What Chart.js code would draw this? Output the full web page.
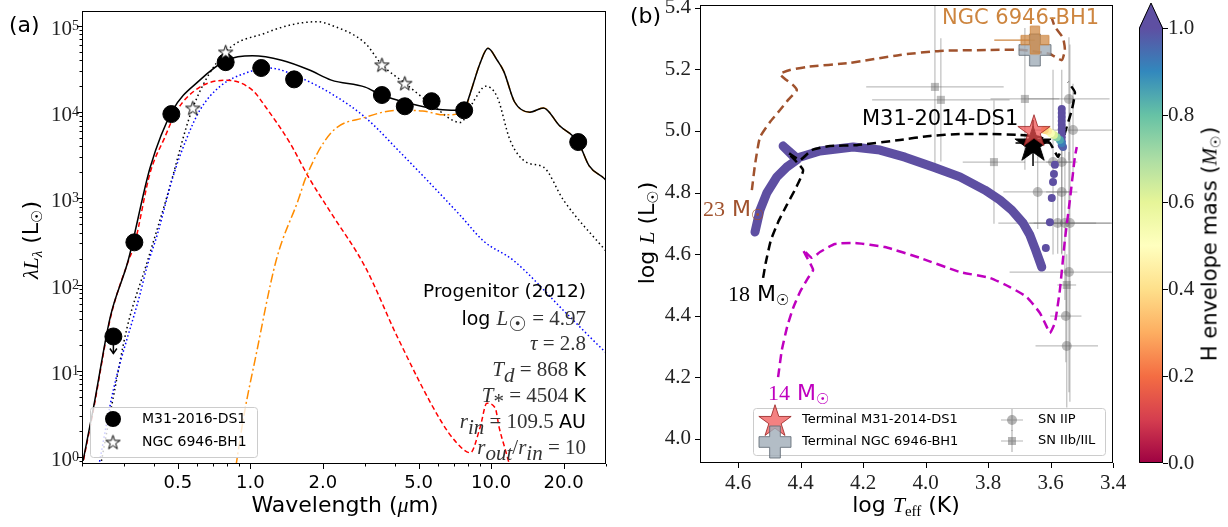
<!DOCTYPE html>
<html>
<head>
<meta charset="utf-8">
<title>Progenitor SED and HR diagram</title>
<script src="https://cdn.jsdelivr.net/npm/chart.js@4.4.0/dist/chart.umd.min.js"></script>
<style>
  html, body { margin: 0; padding: 0; background: #fff; }
  #fig { position: relative; width: 1228px; height: 527px; overflow: hidden; font-family: "DejaVu Sans", sans-serif; color: #000; }
  #fig canvas { position: absolute; top: 0; }
  .lbl { position: absolute; white-space: nowrap; line-height: 1; }
  .c { transform: translate(-50%, -50%); }
  .r { transform: translate(-100%, -50%); }
  .l { transform: translate(0, -50%); }
  .v { transform: translate(-50%, -50%) rotate(-90deg); }
  .mi { font-family: "Liberation Serif", serif; font-style: italic; }
  .rm { font-family: "Liberation Serif", serif; }
  .m { color: #333; font-size: 21px; }
  sub { font-size: 0.68em; vertical-align: -0.3em; line-height: 0; }
</style>
</head>
<body>
<div id="fig">
  <canvas id="sed" width="620" height="527" style="left:0"></canvas>
  <canvas id="hrd" width="608" height="547" style="left:620px;top:-20px"></canvas>
  <canvas id="cbar" width="108" height="527" style="left:1120px"></canvas>

  <div class="lbl l" style="left:9px;top:25px;font-size:22px">(a)</div>
  <div class="lbl l" style="left:630px;top:16px;font-size:22px">(b)</div>

  <div class="lbl c" style="left:345px;top:505px;font-size:22px">Wavelength (<span class="mi">μ</span>m)</div>
  <div class="lbl v" style="left:31px;top:240px;font-size:22px"><span class="mi">λL</span><sub class="mi">λ</sub> (L<sub>☉</sub>)</div>

  <div class="lbl r" style="left:586px;top:291px;font-size:18.5px">Progenitor (2012)</div>
  <div class="lbl r" style="left:586px;top:318px;font-size:19px">log <span class="mi m">L</span><sub class="m">☉</sub><span class="rm m"> = 4.97</span></div>
  <div class="lbl r" style="left:586px;top:343px;font-size:19px"><span class="mi m">τ</span><span class="rm m"> = 2.8</span></div>
  <div class="lbl r" style="left:586px;top:369px;font-size:19px"><span class="mi m">T</span><sub class="mi m">d</sub><span class="rm m"> = 868 </span>K</div>
  <div class="lbl r" style="left:586px;top:395px;font-size:19px"><span class="mi m">T</span><sub class="rm m">*</sub><span class="rm m"> = 4504 </span>K</div>
  <div class="lbl r" style="left:586px;top:421px;font-size:19px"><span class="mi m">r</span><sub class="mi m">in</sub><span class="rm m"> = 109.5 </span>AU</div>
  <div class="lbl r" style="left:586px;top:447px;font-size:19px"><span class="mi m">r</span><sub class="mi m">out</sub><span class="rm m">/</span><span class="mi m">r</span><sub class="mi m">in</sub><span class="rm m"> = 10</span></div>

  <div class="lbl c" style="left:906px;top:505px;font-size:22px">log <span class="mi">T</span><sub class="rm">eff</sub> (K)</div>
  <div class="lbl v" style="left:647px;top:233px;font-size:22px">log <span class="mi">L</span> (L<sub>☉</sub>)</div>

  <div class="lbl l" style="left:703px;top:209px;font-size:22px;color:sienna"><span class="rm">23</span> M<sub>☉</sub></div>
  <div class="lbl l" style="left:728px;top:294px;font-size:22px"><span class="rm">18</span> M<sub>☉</sub></div>
  <div class="lbl l" style="left:768px;top:393px;font-size:22px;color:#bf00bf"><span class="rm">14</span> M<sub>☉</sub></div>
  <div class="lbl l" style="left:862px;top:118px;font-size:21px">M31-2014-DS1</div>
  <div class="lbl l" style="left:942px;top:17px;font-size:21px;color:peru">NGC 6946-BH1</div>

  <div class="lbl v" style="left:1210px;top:244px;font-size:21px">H envelope mass (<span class="mi">M</span><sub class="rm">☉</sub>)</div>
</div>

<script>
// ---------- panel (a): spectral energy distribution ----------
const sedXTicks = [0.5, 1, 2, 5, 10, 20];
const sedXTickLabels = ['0.5', '1.0', '2.0', '5.0', '10.0', '20.0'];
const sedYExps = [0, 1, 2, 3, 4, 5];

// photometry of M31-2016-DS1 (first point is an upper limit)
const ds1Wave = [0.27, 0.33, 0.47, 0.79, 1.11, 1.52, 3.52, 4.38, 5.66, 7.73, 23.0];
const ds1Lum = [25, 309, 9500, 38000, 32500, 24000, 15800, 11700, 13400, 10500, 4500];
const ds1UpperLimit = [true, false, false, false, false, false, false, false, false, false, false];

// photometry of NGC 6946-BH1
const bh1Wave = [0.577, 0.79, 3.52, 4.38];
const bh1Lum = [11200, 50000, 35500, 21700];

// total DUSTY model (solid black)
const modelWave = [0.202, 0.223, 0.262, 0.311, 0.384, 0.476, 0.617, 0.797, 1.02, 1.35, 1.75, 2.17, 3.0, 3.5, 4.6, 6.1, 7.2, 7.8, 8.2, 9.0, 9.7, 10.6, 11.3, 12.5, 14.5, 16.5, 19.2, 23.0, 25.5, 29.5, 30.5];
const modelLum = [0.9, 3.7, 42, 190, 2300, 10500, 23500, 40000, 45000, 40000, 31000, 23500, 19500, 15800, 12600, 10700, 10500, 11400, 16700, 37000, 55000, 40000, 29500, 13200, 10000, 11200, 7000, 4500, 2400, 1700, 1550];

// NGC 6946-BH1 model (dotted black)
const bh1ModelWave = [0.239, 0.27, 0.308, 0.37, 0.45, 0.577, 0.79, 1.16, 1.5, 1.9, 2.17, 3.0, 3.52, 4.38, 5.6, 7.45, 8.5, 9.5, 10.6, 12.0, 14.1, 16.5, 20, 29.8, 31];
const bh1ModelLum = [0.8, 5, 32, 170, 1030, 11200, 50000, 83000, 104000, 112000, 102000, 63000, 35500, 21700, 12600, 7600, 13700, 20000, 15000, 4700, 2600, 2300, 950, 250, 220];

// stellar photosphere (red dashed)
const photWave = [0.2, 0.223, 0.262, 0.311, 0.33, 0.384, 0.44, 0.496, 0.617, 0.80, 1.02, 1.16, 1.46, 1.75, 2.17, 3.0, 4.1, 6.2, 7.2, 8.2, 9.0, 9.6, 10.4, 10.8, 11.4, 11.9, 12.5];
const photLum = [0.75, 3.5, 40, 185, 290, 2000, 5000, 10500, 19500, 23500, 18000, 11400, 4400, 1740, 670, 160, 24, 2.6, 1.46, 1.12, 2.2, 4.2, 3.7, 2.2, 1.27, 0.83, 0.5];

// attenuated star (blue dotted)
const attenWave = [0.235, 0.27, 0.349, 0.372, 0.412, 0.476, 0.54, 0.617, 0.75, 0.96, 1.2, 1.59, 2.2, 3.0, 4.2, 5.6, 7.5, 9.3, 12.4, 20, 29.5, 31];
const attenLum = [0.8, 6, 79, 160, 390, 1740, 4700, 10500, 20000, 28500, 32500, 25500, 16000, 8700, 3400, 1480, 620, 320, 190, 50, 17, 15];

// dust emission (orange dash-dot)
const dustWave = [0.85, 0.944, 1.05, 1.28, 1.59, 1.70, 2.17, 3.0, 4.1, 5.2, 6.4, 7.7, 8.2, 9.0, 9.7, 10.6, 11.3, 12.5, 14.5, 16.5, 19.2, 23.0, 25.5, 29.5, 30.5];
const dustLum = [0.5, 3.2, 14, 190, 1000, 1740, 5800, 8700, 10500, 10300, 9300, 10000, 16700, 37000, 55000, 40000, 29500, 13200, 10000, 11200, 7000, 4500, 2400, 1700, 1550];

// ---------- panel (b): HR diagram ----------
const hrXTicks = [4.6, 4.4, 4.2, 4.0, 3.8, 3.6, 3.4];
const hrYTicks = [4.0, 4.2, 4.4, 4.6, 4.8, 5.0, 5.2, 5.4];

const track23Teff = [4.556, 4.546, 4.530, 4.498, 4.466, 4.440, 4.412, 4.424, 4.450, 4.466, 4.434, 4.380, 4.242, 4.082, 3.954, 3.794, 3.688, 3.602, 3.564, 3.554, 3.560, 3.586, 3.596];
const track23L = [4.808, 4.890, 4.980, 5.029, 5.068, 5.101, 5.133, 5.149, 5.169, 5.185, 5.198, 5.208, 5.221, 5.247, 5.260, 5.263, 5.263, 5.250, 5.230, 5.263, 5.302, 5.338, 5.367];

const track18Teff = [4.520, 4.511, 4.495, 4.472, 4.444, 4.415, 4.392, 4.440, 4.402, 4.364, 4.306, 4.220, 4.082, 3.986, 3.890, 3.794, 3.698, 3.634, 3.602, 3.576, 3.564, 3.554, 3.532, 3.522, 3.544];
const track18L = [4.523, 4.575, 4.646, 4.704, 4.760, 4.815, 4.873, 4.929, 4.906, 4.938, 4.951, 4.954, 4.971, 4.984, 4.990, 4.990, 4.987, 4.980, 4.961, 4.916, 4.948, 4.993, 5.068, 5.126, 5.159];

const track14Teff = [4.472, 4.460, 4.443, 4.424, 4.402, 4.376, 4.360, 4.392, 4.364, 4.338, 4.290, 4.226, 4.130, 4.018, 3.890, 3.794, 3.730, 3.676, 3.634, 3.612, 3.602, 3.586, 3.570, 3.554, 3.538, 3.522, 3.516];
const track14L = [4.201, 4.289, 4.364, 4.425, 4.477, 4.523, 4.549, 4.614, 4.588, 4.607, 4.633, 4.636, 4.623, 4.588, 4.542, 4.523, 4.493, 4.461, 4.409, 4.364, 4.344, 4.377, 4.484, 4.646, 4.776, 4.916, 4.948];

// model track with H envelope >= 1 Msun (purple band)
const hrTeff = [4.546, 4.530, 4.508, 4.476, 4.444, 4.412, 4.456, 4.412, 4.380, 4.338, 4.232, 4.146, 4.066, 3.976, 3.890, 3.810, 3.762, 3.724, 3.688, 3.666, 3.650, 3.634, 3.628];
const hrL = [4.672, 4.743, 4.799, 4.851, 4.883, 4.906, 4.951, 4.912, 4.922, 4.935, 4.948, 4.938, 4.915, 4.883, 4.851, 4.808, 4.776, 4.743, 4.701, 4.662, 4.620, 4.575, 4.558];

// late stages, coloured by H envelope mass
const tailTeff = [3.615, 3.602, 3.596, 3.592, 3.589, 3.586,
  3.564, 3.564, 3.564, 3.564, 3.564, 3.564, 3.564, 3.564, 3.564, 3.564,
  3.560, 3.564, 3.570, 3.580, 3.589, 3.599, 3.608, 3.618];
const tailL = [4.620, 4.704, 4.782, 4.834, 4.860, 4.890,
  4.954, 4.967, 4.980, 4.993, 5.006, 5.019, 5.032, 5.045, 5.058, 5.071,
  4.948, 4.961, 4.971, 4.980, 4.987, 4.993, 5.000, 5.003];
const tailMenv = [1.0, 1.0, 1.0, 1.0, 1.0, 1.0,
  1.0, 1.0, 1.0, 1.0, 1.0, 1.0, 1.0, 1.0, 1.0, 1.0,
  0.97, 0.92, 0.85, 0.75, 0.62, 0.52, 0.44, 0.38];

// SN progenitors
const iipTeff = [3.541, 3.528, 3.592, 3.564, 3.641, 3.564, 3.577, 3.554, 3.538, 3.541, 3.551, 3.548];
const iipL = [5.104, 5.003, 4.899, 4.899, 4.802, 4.802, 4.701, 4.701, 4.701, 4.542, 4.399, 4.302];
const iipTeffErr = [0.13, 0.13, 0.06, 0.05, 0.11, 0.05, 0.19, 0.10, 0.13, 0.19, 0.05, 0.10];
const iipLErr = [0.2, 0.15, 0.3, 0.3, 0.12, 0.2, 0.1, 0.25, 0.58, 0.39, 0.15, 0.2];

const iibTeff = [3.970, 3.951, 3.781, 3.682, 3.548];
const iibL = [5.143, 5.101, 4.899, 5.104, 4.500];
const iibTeffErr = [0.22, 0.22, 0.10, 0.11, 0.03];
const iibLErr = [0.27, 0.20, 0.20, 0.23, 0.10];

// observed / terminal positions
const ds1ObsTeff = [3.656], ds1ObsL = [4.961], ds1ObsTeffErr = [0.056], ds1ObsLErr = [0.075];
const ds1TermTeff = [3.653], ds1TermL = [5.003];
const bh1ObsTeff = [3.650], bh1ObsL = [5.295];
const bh1TermTeff = [3.650], bh1TermL = [5.263];

// colour bar
const cbarTicks = [0, 0.2, 0.4, 0.6, 0.8, 1.0];
const cbarLabels = ['0.0', '0.2', '0.4', '0.6', '0.8', '1.0'];
const spectral = ['#9e0142', '#d53e4f', '#f46d43', '#fdae61', '#fee08b', '#ffffbf', '#e6f598', '#abdda4', '#66c2a5', '#3288bd', '#5e4fa2'];

// ---------- helpers ----------
function pts(xs, ys) { return xs.map((v, i) => ({ x: v, y: ys[i] })); }

function spectralColor(v) {
  const t = Math.max(0, Math.min(1, v)) * (spectral.length - 1);
  const i = Math.min(Math.floor(t), spectral.length - 2), f = t - i;
  const a = parseInt(spectral[i].slice(1), 16), b = parseInt(spectral[i + 1].slice(1), 16);
  const ch = s => Math.round(((a >> s) & 255) * (1 - f) + ((b >> s) & 255) * f);
  return 'rgb(' + ch(16) + ',' + ch(8) + ',' + ch(0) + ')';
}

function starCanvas(r, fill, stroke, lw) {
  const s = Math.ceil(2 * r + 2 * lw + 2), c = document.createElement('canvas');
  c.width = s; c.height = s;
  const g = c.getContext('2d');
  g.beginPath();
  for (let i = 0; i < 10; i++) {
    const rr = i % 2 ? r * 0.382 : r, ang = -Math.PI / 2 + i * Math.PI / 5;
    const px = s / 2 + rr * Math.cos(ang), py = s / 2 + rr * Math.sin(ang) + r * 0.1;
    if (i) g.lineTo(px, py); else g.moveTo(px, py);
  }
  g.closePath();
  g.fillStyle = fill; g.fill();
  g.lineWidth = lw; g.strokeStyle = stroke; g.stroke();
  return c;
}

function plusCanvas(size, fill, stroke, lw) {
  const s = Math.ceil(size + 2 * lw + 2), c = document.createElement('canvas');
  c.width = s; c.height = s;
  const g = c.getContext('2d'), h = size / 2, a = size / 6, o = s / 2;
  const p = [[-a, -h], [a, -h], [a, -a], [h, -a], [h, a], [a, a], [a, h], [-a, h], [-a, a], [-h, a], [-h, -a], [-a, -a]];
  g.beginPath();
  p.forEach((q, i) => i ? g.lineTo(o + q[0], o + q[1]) : g.moveTo(o + q[0], o + q[1]));
  g.closePath();
  g.fillStyle = fill; g.fill();
  g.lineWidth = lw; g.strokeStyle = stroke; g.stroke();
  return c;
}

function logTicks(lo, hi, majors) {
  const t = [];
  for (let e = Math.floor(Math.log10(lo)); e <= Math.ceil(Math.log10(hi)); e++) {
    for (let m = 1; m < 10; m++) {
      const v = +(m * Math.pow(10, e)).toPrecision(6);
      if (v >= lo && v <= hi) t.push({ value: v, major: majors(v) });
    }
  }
  return t;
}

const whiteStar = starCanvas(7.5, '#fff', '#000', 1);
const redStar = starCanvas(17, 'rgba(240,80,80,0.72)', 'rgba(150,30,30,0.8)', 1);
const blackStar = starCanvas(19, '#000', '#000', 1);
const grayPlus = plusCanvas(32, 'rgba(160,172,184,0.8)', 'rgba(90,100,110,0.8)', 1);
const peruPlus = plusCanvas(28, 'rgba(205,133,63,0.72)', 'rgba(205,133,63,0.8)', 1);

const serif = '"Liberation Serif", "DejaVu Serif", serif';
const sans = '"DejaVu Sans", sans-serif';

// tick marks (major longer than minor) and the full frame
const frameTicks = {
  id: 'frameTicks',
  afterDraw(chart, args, opts) {
    const { ctx, chartArea: a } = chart;
    ctx.save();
    ctx.strokeStyle = '#000';
    ctx.lineWidth = 1;
    Object.values(chart.scales).forEach(s => {
      if (!s.options.display) return;
      s.ticks.forEach(t => {
        const len = t.major ? 5 : 2.5;
        const p = Math.round(s.getPixelForValue(t.value)) + 0.5;
        ctx.beginPath();
        if (s.position === 'bottom') { ctx.moveTo(p, a.bottom); ctx.lineTo(p, a.bottom + len); }
        else if (s.position === 'left') { ctx.moveTo(a.left - len, p); ctx.lineTo(a.left, p); }
        else { ctx.moveTo(a.right, p); ctx.lineTo(a.right + len, p); }
        ctx.stroke();
      });
    });
    if (opts.frame !== false) {
      ctx.strokeRect(Math.round(a.left) + 0.5, Math.round(a.top) + 0.5, Math.round(a.width) - 1, Math.round(a.height) - 1);
    }
    ctx.restore();
  }
};

function legendBox(ctx, x, y, w, h) {
  ctx.save();
  ctx.beginPath();
  ctx.roundRect(x + 0.5, y + 0.5, w, h, 3);
  ctx.fillStyle = 'rgba(255,255,255,0.8)';
  ctx.fill();
  ctx.strokeStyle = '#ccc';
  ctx.stroke();
  ctx.restore();
}

// panel (a) extras: upper limit arrow, 10^n labels, legend
const sedExtras = {
  id: 'sedExtras',
  beforeDatasetsDraw(chart) {
    const { ctx, scales: { x, y } } = chart;
    ctx.save();
    ctx.strokeStyle = '#000';
    ctx.lineWidth = 1.5;
    ds1Wave.forEach((w, i) => {
      if (!ds1UpperLimit[i]) return;
      const px = x.getPixelForValue(w), py = y.getPixelForValue(ds1Lum[i]);
      ctx.beginPath(); ctx.moveTo(px, py); ctx.lineTo(px, py + 17); ctx.stroke();
      ctx.beginPath(); ctx.moveTo(px - 3.5, py + 12); ctx.lineTo(px, py + 17); ctx.lineTo(px + 3.5, py + 12); ctx.stroke();
    });
    ctx.restore();
  },
  afterDraw(chart) {
    const { ctx, scales: { y }, chartArea: a } = chart;
    ctx.save();
    ctx.fillStyle = '#222';
    ctx.textBaseline = 'alphabetic';
    sedYExps.forEach(e => {
      const py = y.getPixelForValue(Math.pow(10, e));
      ctx.font = '14px ' + serif;
      const ew = ctx.measureText(String(e)).width;
      const right = a.left - 3;
      ctx.textAlign = 'right';
      ctx.fillText(String(e), right, py + 4);
      ctx.font = '21px ' + serif;
      ctx.fillText('10', right - ew, py + 9);
    });
    // legend
    legendBox(ctx, 90, 407, 167, 50);
    ctx.fillStyle = '#000';
    ctx.beginPath(); ctx.arc(113, 419, 8, 0, Math.PI * 2); ctx.fill();
    ctx.drawImage(whiteStar, 113 - whiteStar.width / 2, 442 - whiteStar.height / 2);
    ctx.font = '14px ' + sans;
    ctx.textAlign = 'left';
    ctx.textBaseline = 'middle';
    ctx.fillText('M31-2016-DS1', 142, 419);
    ctx.fillText('NGC 6946-BH1', 142, 442);
    ctx.restore();
  }
};

const curve = (xs, ys, color, dash, order) => ({
  data: pts(xs, ys), showLine: true, pointRadius: 0, borderColor: color, borderWidth: 1.5,
  borderDash: dash, cubicInterpolationMode: 'monotone', order: order
});

new Chart(document.getElementById('sed'), {
  type: 'scatter',
  data: {
    datasets: [
      { data: pts(bh1Wave, bh1Lum), pointStyle: whiteStar, pointRadius: 8, order: 0 },
      { data: pts(ds1Wave, ds1Lum), pointStyle: 'circle', pointRadius: 8.5, backgroundColor: '#000', borderColor: '#000', order: 1 },
      curve(modelWave, modelLum, '#000', [], 2),
      curve(dustWave, dustLum, '#ff8c00', [9, 3, 2, 3], 3),
      curve(photWave, photLum, '#ff0000', [5, 3], 4),
      curve(attenWave, attenLum, '#0000ff', [1.5, 2.5], 5),
      curve(bh1ModelWave, bh1ModelLum, '#000', [1.5, 3], 6)
    ]
  },
  options: {
    responsive: false, animation: false, events: [],
    layout: { padding: { left: 0, top: 11, right: 14, bottom: 0 } },
    plugins: { legend: { display: false }, tooltip: { enabled: false } },
    scales: {
      x: {
        type: 'logarithmic', min: 0.2, max: 30,
        afterFit: s => { s.height = 63; },
        afterBuildTicks: s => { s.ticks = logTicks(0.2, 30, v => sedXTicks.includes(v)); },
        grid: { display: false, tickLength: 5 }, border: { display: false },
        ticks: {
          autoSkip: false, maxRotation: 0, padding: 4, color: '#000',
          font: { family: sans, size: 18 },
          callback: v => { const i = sedXTicks.indexOf(v); return i >= 0 ? sedXTickLabels[i] : ''; }
        }
      },
      y: {
        type: 'logarithmic', min: 0.83, max: 149000,
        afterFit: s => { s.width = 82; },
        afterBuildTicks: s => { s.ticks = logTicks(0.83, 149000, v => sedYExps.some(e => Math.pow(10, e) === v)); },
        grid: { display: false, tickLength: 5 }, border: { display: false },
        ticks: { autoSkip: false, callback: () => '' }
      }
    }
  },
  plugins: [sedExtras, frameTicks]
});

// panel (b) extras: error bars and legend (canvas sits 20px above the page top)
const OY = 20;
const hrExtras = {
  id: 'hrExtras',
  beforeDatasetsDraw(chart) {
    const { ctx, chartArea: a, scales: { x, y } } = chart;
    ctx.save();
    ctx.beginPath(); ctx.rect(a.left, a.top, a.width, a.height); ctx.clip();
    chart.data.datasets.forEach(ds => {
      if (!ds.errX && !ds.errY) return;
      ctx.strokeStyle = ds.errColor || 'rgba(110,110,110,0.45)';
      ctx.lineWidth = ds.errWidth || 1.2;
      ds.data.forEach((p, j) => {
        const px = x.getPixelForValue(p.x), py = y.getPixelForValue(p.y);
        if (ds.errX) {
          const e = ds.errX[j], lo = Array.isArray(e) ? e[0] : e, hi = Array.isArray(e) ? e[1] : e;
          ctx.beginPath(); ctx.moveTo(x.getPixelForValue(p.x + lo), py); ctx.lineTo(x.getPixelForValue(p.x - hi), py); ctx.stroke();
        }
        if (ds.errY) {
          const e = ds.errY[j];
          ctx.beginPath(); ctx.moveTo(px, y.getPixelForValue(p.y + e)); ctx.lineTo(px, y.getPixelForValue(p.y - e)); ctx.stroke();
        }
      });
    });
    ctx.restore();
  },
  afterDraw(chart) {
    const { ctx } = chart;
    ctx.save();
    legendBox(ctx, 133, 408 + OY, 352, 47);
    ctx.drawImage(redStar, 155 - redStar.width / 2, 420 + OY - redStar.height / 2);
    ctx.drawImage(grayPlus, 155 - grayPlus.width / 2, 442 + OY - grayPlus.height / 2);
    ctx.strokeStyle = 'rgba(110,110,110,0.5)';
    ctx.lineWidth = 1.2;
    [[420 + OY, 'c'], [441 + OY, 's']].forEach(([ly, kind]) => {
      ctx.beginPath(); ctx.moveTo(381, ly); ctx.lineTo(403, ly); ctx.moveTo(392, ly - 11); ctx.lineTo(392, ly + 11); ctx.stroke();
      ctx.fillStyle = 'rgba(90,90,90,0.45)';
      ctx.beginPath();
      if (kind === 'c') ctx.arc(392, ly, 5, 0, Math.PI * 2); else ctx.rect(388, ly - 4, 8, 8);
      ctx.fill();
    });
    ctx.fillStyle = '#000';
    ctx.font = '13px ' + sans;
    ctx.textAlign = 'left';
    ctx.textBaseline = 'middle';
    ctx.fillText('Terminal M31-2014-DS1', 182, 420 + OY);
    ctx.fillText('Terminal NGC 6946-BH1', 182, 442 + OY);
    ctx.fillText('SN IIP', 418, 420 + OY);
    ctx.fillText('SN IIb/IIL', 418, 441 + OY);
    ctx.restore();
  }
};

const track = (xs, ys, color, order) => ({
  data: pts(xs, ys), showLine: true, pointRadius: 0, borderColor: color, borderWidth: 2.5,
  borderDash: [9, 5], tension: 0.15, order: order
});

new Chart(document.getElementById('hrd'), {
  type: 'scatter',
  data: {
    datasets: [
      { data: pts(ds1TermTeff, ds1TermL), pointStyle: redStar, pointRadius: 17, order: 0 },
      { data: pts(bh1ObsTeff, bh1ObsL), pointStyle: peruPlus, pointRadius: 14, errX: [[0.13, 0]], errColor: 'peru', errWidth: 1.2, order: 1 },
      { data: pts(bh1TermTeff, bh1TermL), pointStyle: grayPlus, pointRadius: 16, order: 2 },
      { data: pts(ds1ObsTeff, ds1ObsL), pointStyle: blackStar, pointRadius: 19, errX: ds1ObsTeffErr, errY: ds1ObsLErr, errColor: '#000', errWidth: 1.5, order: 3 },
      { data: pts(tailTeff, tailL), pointRadius: 4, borderWidth: 0, backgroundColor: tailMenv.map(spectralColor), order: 4 },
      track(track18Teff, track18L, '#000', 5),
      track(track23Teff, track23L, 'sienna', 6),
      track(track14Teff, track14L, '#bf00bf', 7),
      { data: pts(hrTeff, hrL), showLine: true, pointRadius: 0, borderColor: '#5e4fa2', borderWidth: 9,
        borderCapStyle: 'round', borderJoinStyle: 'round', tension: 0, order: 8 },
      { data: pts(iipTeff, iipL), pointStyle: 'circle', pointRadius: 5, borderWidth: 0, backgroundColor: 'rgba(90,90,90,0.4)',
        errX: iipTeffErr, errY: iipLErr, order: 9 },
      { data: pts(iibTeff, iibL), pointStyle: 'rect', pointRadius: 5.7, borderWidth: 0, backgroundColor: 'rgba(90,90,90,0.4)',
        errX: iibTeffErr, errY: iibLErr, order: 10 }
    ]
  },
  options: {
    responsive: false, animation: false, events: [],
    layout: { padding: { left: 0, top: 5 + OY, right: 115, bottom: 0 } },
    plugins: { legend: { display: false }, tooltip: { enabled: false } },
    scales: {
      x: {
        type: 'linear', reverse: true, min: 3.4, max: 4.722,
        afterFit: s => { s.height = 64; },
        afterBuildTicks: s => { s.ticks = hrXTicks.map(v => ({ value: v, major: true })); },
        grid: { display: false, tickLength: 5 }, border: { display: false },
        ticks: { autoSkip: false, maxRotation: 0, padding: 3, color: '#222', font: { family: serif, size: 21 }, callback: v => v.toFixed(1) }
      },
      y: {
        type: 'linear', min: 3.922, max: 5.409,
        afterFit: s => { s.width = 80; },
        afterBuildTicks: s => { s.ticks = hrYTicks.map(v => ({ value: v, major: true })); },
        grid: { display: false, tickLength: 5 }, border: { display: false },
        ticks: { autoSkip: false, padding: 4, color: '#222', font: { family: serif, size: 21 }, callback: v => v.toFixed(1) }
      }
    }
  },
  plugins: [hrExtras, frameTicks]
});

// colour bar with 'max' extension
const cbarFill = {
  id: 'cbarFill',
  beforeDatasetsDraw(chart) {
    const { ctx, chartArea: a } = chart;
    const g = ctx.createLinearGradient(0, a.bottom, 0, a.top);
    spectral.forEach((c, i) => g.addColorStop(i / (spectral.length - 1), c));
    ctx.save();
    ctx.fillStyle = g;
    ctx.fillRect(a.left, a.top, a.width, a.height);
    const mid = (a.left + a.right) / 2, tip = a.top - 25;
    ctx.beginPath(); ctx.moveTo(a.left, a.top); ctx.lineTo(mid, tip); ctx.lineTo(a.right, a.top); ctx.closePath();
    ctx.fillStyle = spectral[spectral.length - 1]; ctx.fill();
    ctx.beginPath();
    ctx.moveTo(a.left + 0.5, a.bottom - 0.5); ctx.lineTo(a.left + 0.5, a.top); ctx.lineTo(mid, tip);
    ctx.lineTo(a.right - 0.5, a.top); ctx.lineTo(a.right - 0.5, a.bottom - 0.5); ctx.closePath();
    ctx.strokeStyle = '#000'; ctx.lineWidth = 1; ctx.stroke();
    ctx.restore();
  }
};

new Chart(document.getElementById('cbar'), {
  type: 'scatter',
  data: { datasets: [] },
  options: {
    responsive: false, animation: false, events: [],
    layout: { padding: { left: 19, top: 28, right: 15, bottom: 64 } },
    plugins: { legend: { display: false }, tooltip: { enabled: false }, frameTicks: { frame: false } },
    scales: {
      x: { display: false, min: 0, max: 1 },
      y: {
        position: 'right', min: 0, max: 1,
        afterFit: s => { s.width = 50; },
        afterBuildTicks: s => { s.ticks = cbarTicks.map(v => ({ value: v, major: true })); },
        grid: { display: false, tickLength: 4 }, border: { display: false },
        ticks: { padding: 1, color: '#222', font: { family: serif, size: 21 }, callback: v => { const i = cbarTicks.indexOf(v); return i >= 0 ? cbarLabels[i] : ''; } }
      }
    }
  },
  plugins: [cbarFill, frameTicks]
});
</script>
</body>
</html>
